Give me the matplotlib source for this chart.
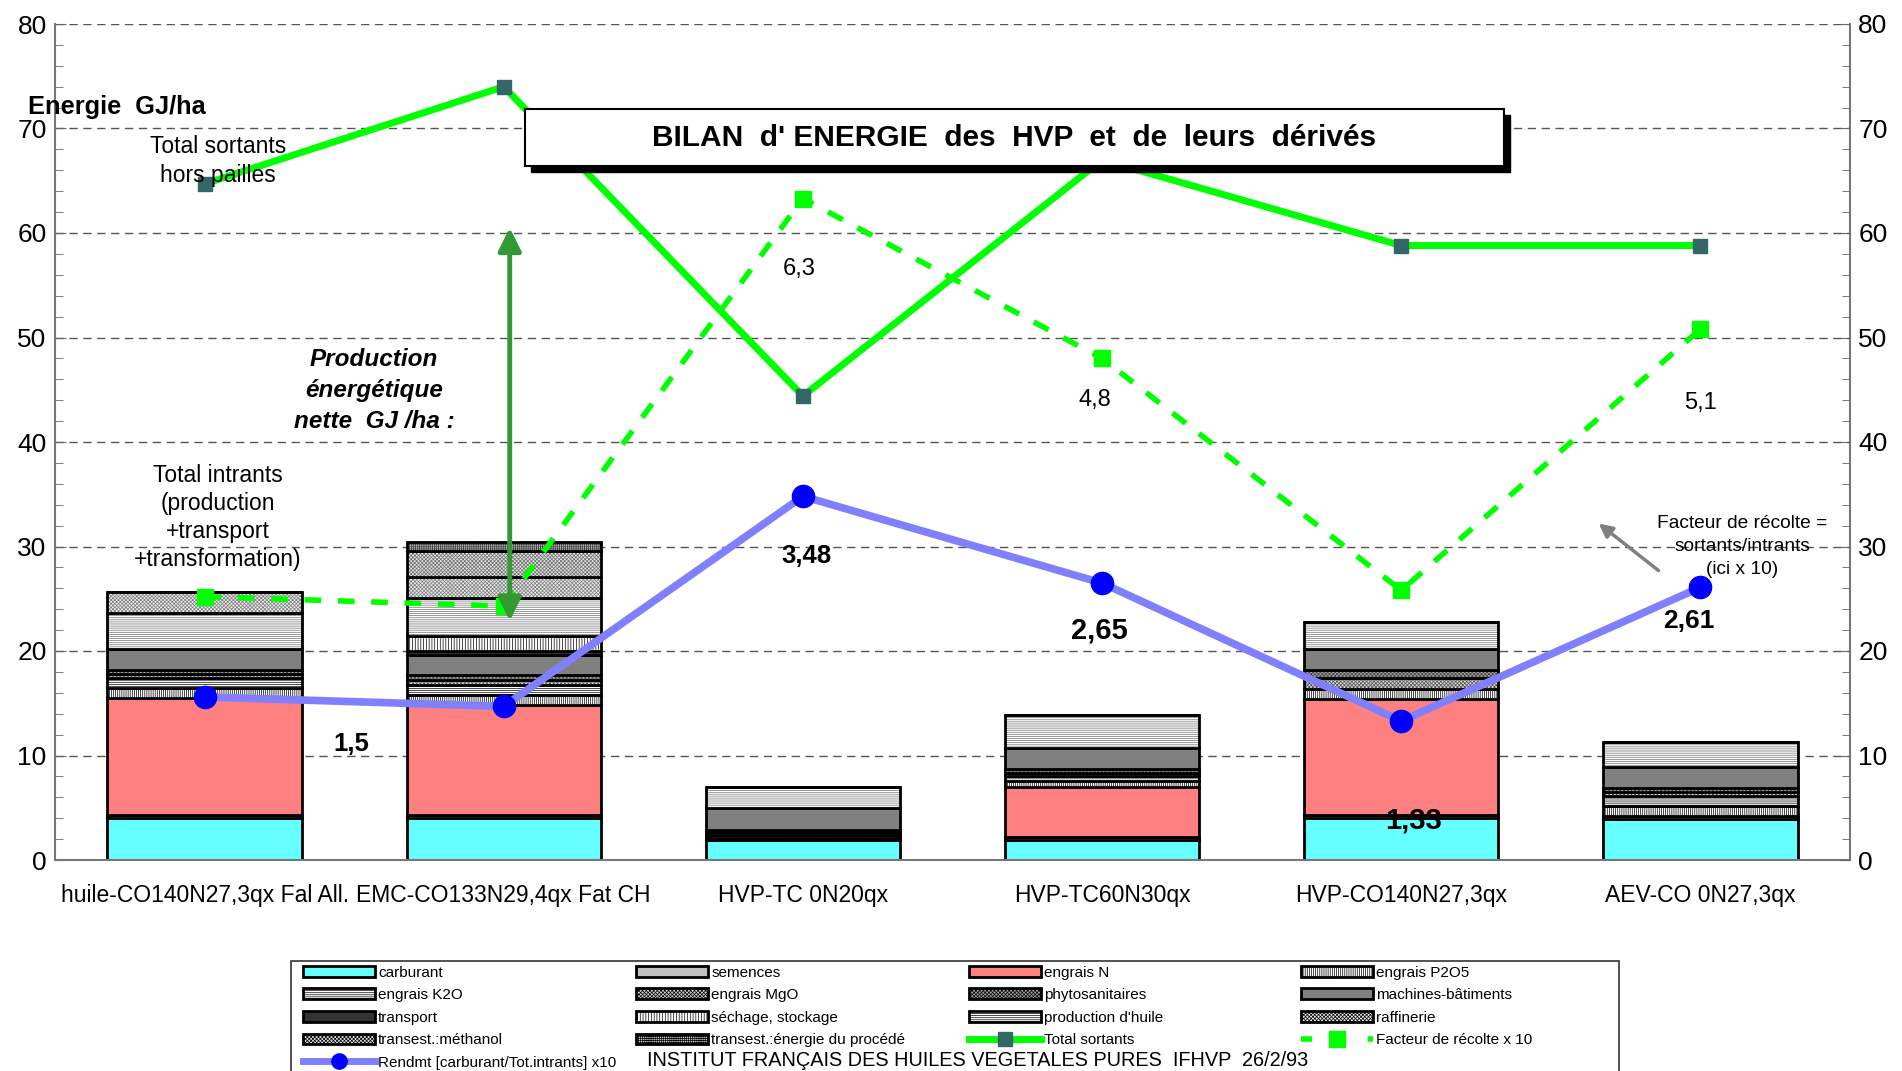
import matplotlib
matplotlib.use("Agg")
import matplotlib.pyplot as plt
import numpy as np
from matplotlib.patches import Patch, Rectangle
from matplotlib.lines import Line2D

plt.rcParams['font.family'] = ['Liberation Sans', 'DejaVu Sans']
plt.rcParams['hatch.linewidth'] = 0.5

# --- data ---
categories = ["huile-CO140N27,3qx Fal All.", "EMC-CO133N29,4qx Fat CH", "HVP-TC 0N20qx",
              "HVP-TC60N30qx", "HVP-CO140N27,3qx", "AEV-CO 0N27,3qx"]

series_names = ["carburant", "semences", "engrais N", "engrais P2O5", "engrais K2O",
                "engrais MgO", "phytosanitaires", "machines-bâtiments", "transport",
                "séchage, stockage", "production d'huile", "raffinerie",
                "transest.:méthanol", "transest.:énergie du procédé"]

carburant = [4.0, 4.0, 1.9, 1.9, 4.0, 3.9]
semences = [0.3, 0.3, 0.2, 0.3, 0.3, 0.3]
engrais_n = [11.2, 10.5, 0.0, 4.8, 11.1, 0.0]
engrais_p2o5 = [1.0, 1.0, 0.3, 0.6, 1.0, 1.0]
engrais_k2o = [0.9, 0.9, 0.3, 0.4, 0.0, 0.9]
engrais_mgo = [0.4, 0.5, 0.0, 0.35, 1.0, 0.4]
phyto = [0.4, 0.5, 0.2, 0.35, 0.8, 0.4]
machines = [2.0, 1.9, 2.1, 2.0, 2.0, 2.0]
transport = [0.0, 0.4, 0.0, 0.0, 0.0, 0.0]
sechage = [0.0, 1.4, 0.0, 0.0, 0.0, 0.0]
prod_huile = [3.4, 3.7, 2.0, 3.2, 2.6, 2.4]
raffinerie = [2.0, 2.0, 0.0, 0.0, 0.0, 0.0]
methanol = [0.0, 2.5, 0.0, 0.0, 0.0, 0.0]
procede = [0.0, 0.8, 0.0, 0.0, 0.0, 0.0]

total_sortants = [64.7, 74.0, 44.4, 67.0, 58.8, 58.8]
facteur_x10 = [25.2, 24.3, 63.3, 48.0, 25.8, 50.8]
rendement_x10 = [15.6, 14.7, 34.8, 26.5, 13.3, 26.1]

# label values shown on the chart
facteur_labels = ["6,3", "4,8", "5,1"]
rendement_labels = ["1,5", "3,48", "2,65", "1,33", "2,61"]

stack = [carburant, semences, engrais_n, engrais_p2o5, engrais_k2o, engrais_mgo, phyto,
         machines, transport, sechage, prod_huile, raffinerie, methanol, procede]

# facecolor, hatch, hatch colour per series
styles = [
    ('#66FFFF', None, 'black'),
    ('#C0C0C0', None, 'black'),
    ('#FF8080', None, 'black'),
    ('white', '||||||||', 'black'),
    ('white', '--------', 'black'),
    ('#D0D0D0', 'xxxxxxxxx', '#555555'),
    ('#A0A0A0', 'xxxxxxxxx', '#444444'),
    ('#808080', None, 'black'),
    ('#333333', None, 'black'),
    ('white', '||||||', 'black'),
    ('white', '--------', '#707070'),
    ('#E8E8E8', 'xxxxxxxxx', '#808080'),
    ('#E0E0E0', 'xxxxxxxxx', '#707070'),
    ('#C8C8C8', '++++++++', '#404040'),
]

W, H = 1902, 1071
fig = plt.figure(figsize=(W / 100, H / 100), dpi=100)
ax = fig.add_axes([55 / W, 1 - 860 / H, (1850 - 55) / W, (860 - 24) / H])

x = np.arange(len(categories))
bottom = np.zeros(len(categories))
for vals, (fc, hatch, hc) in zip(stack, styles):
    vals = np.array(vals)
    # fill + hatch, then black outline on top
    ax.bar(x, vals, 0.65, bottom=bottom, color=fc, edgecolor=hc, linewidth=0,
           hatch=hatch, zorder=2)
    ax.bar(x, vals, 0.65, bottom=bottom, fill=False, edgecolor='black',
           linewidth=2, zorder=2)
    bottom += vals

# lines
ax.plot(x, total_sortants, color='#00FF00', lw=5, marker='s', ms=10,
        mfc='#336666', mec='#336666', zorder=4)
ax.plot(x, facteur_x10, color='#00FF00', lw=4, ls=(0, (3, 3)), marker='s', ms=11,
        mfc='#00FF00', mec='#00FF00', zorder=4)
ax.plot(x, rendement_x10, color='#8080FF', lw=5.5, marker='o', ms=16,
        mfc='#0000FF', mec='#0000FF', zorder=5)

ax.set_xlim(-0.5, len(categories) - 0.5)
ax.set_ylim(0, 80)
ax.set_yticks(np.arange(0, 81, 10))
ax.set_yticks(np.arange(0, 81, 2), minor=True)
ax.set_xticks(x)
ax.set_xticklabels(categories, fontsize=16.5)
ax.tick_params(axis='x', length=0, pad=17)
ax.tick_params(axis='y', which='both', direction='in', colors='#666666',
               labelcolor='black', labelsize=19)
ax.tick_params(axis='y', which='major', length=8, pad=6)
ax.tick_params(axis='y', which='minor', length=6)
ax.grid(axis='y', color='#555555', ls=(0, (6, 4)), lw=1, zorder=0)
ax.spines['top'].set_visible(False)
for s in ['left', 'right', 'bottom']:
    ax.spines[s].set_color('#777777')
    ax.spines[s].set_linewidth(1.5)

ax2 = ax.twinx()
ax2.set_ylim(0, 80)
ax2.set_yticks(np.arange(0, 81, 10))
ax2.set_yticks(np.arange(0, 81, 2), minor=True)
ax2.tick_params(axis='y', which='both', direction='in', colors='#666666',
                labelcolor='black', labelsize=19)
ax2.tick_params(axis='y', which='major', length=8, pad=6)
ax2.tick_params(axis='y', which='minor', length=6)
for s in ax2.spines.values():
    s.set_visible(False)

# annotations
ax.text(-0.59, 72.1, "Energie  GJ/ha", fontsize=18.3, fontweight='bold', ha='left',
        va='center', clip_on=False)
ax.text(0.045, 66.9, "Total sortants\nhors pailles", fontsize=16.5, ha='center',
        va='center', linespacing=1.3, zorder=6)
ax.text(0.045, 32.8, "Total intrants\n(production\n+transport\n+transformation)",
        fontsize=16.5, ha='center', va='center', linespacing=1.28)
ax.text(0.566, 44.9, "Production\nénergétique\nnette  GJ /ha :", fontsize=17.5,
        fontweight='bold', fontstyle='italic', ha='center', va='center', linespacing=1.45)

ax.annotate("", xy=(1.02, 60.5), xytext=(1.02, 22.9),
            arrowprops=dict(arrowstyle='<|-|>', color='#339933', lw=3.5,
                            mutation_scale=35, shrinkA=0, shrinkB=0), zorder=6)

for (tx, ty), t in zip([(1.987, 56.6), (2.976, 44.0), (5.0, 43.7)], facteur_labels):
    ax.text(tx, ty, t, fontsize=17, ha='center', va='center')

rend_pos = [(0.49, 11.1, 18.5), (2.013, 29.1, 18.5), (2.99, 22.0, 21), (4.04, 3.8, 21),
            (4.96, 22.9, 19)]
for (tx, ty, fs), t in zip(rend_pos, rendement_labels):
    ax.text(tx, ty, t, fontsize=fs, fontweight='bold', ha='center', va='center', zorder=6)

ax.text(5.14, 30.0, "Facteur de récolte =\nsortants/intrants\n(ici x 10)", fontsize=13.8,
        ha='center', va='center', linespacing=1.5)
ax.annotate("", xy=(4.66, 32.2), xytext=(4.86, 27.7),
            arrowprops=dict(arrowstyle='-|>', color='#808080', lw=2.5,
                            mutation_scale=20, shrinkA=0, shrinkB=0))

# title box with shadow
def fig_rect(x0, y0, x1, y1, **kw):
    r = Rectangle((x0 / W, 1 - y1 / H), (x1 - x0) / W, (y1 - y0) / H,
                  transform=fig.transFigure, clip_on=False, **kw)
    fig.add_artist(r)
    return r

fig_rect(531, 115, 1510, 172, facecolor='black', edgecolor='black', zorder=10)
fig_rect(525, 109, 1504, 166, facecolor='white', edgecolor='black', lw=1.5, zorder=11)
fig.text(1014 / W, 1 - 138 / H, "BILAN  d' ENERGIE  des  HVP  et  de  leurs  dérivés",
         fontsize=21.5, fontweight='bold', ha='center', va='center', zorder=12)

# legend
handles = []
for (fc, hatch, hc) in styles:
    handles.append(Patch(facecolor=fc, edgecolor='black', linewidth=2, hatch=hatch))
h_total = Line2D([], [], color='#00FF00', lw=5, marker='s', ms=10,
                 mfc='#336666', mec='#336666')
h_fact = Line2D([], [], color='#00FF00', lw=4, ls=(0, (2, 4)), marker='s', ms=11,
                mfc='#00FF00', mec='#00FF00')
h_rend = Line2D([], [], color='#8080FF', lw=5, marker='o', ms=11,
                mfc='#0000FF', mec='#0000FF')

all_h = handles + [h_total, h_fact, h_rend]
all_l = series_names + ["Total sortants", "Facteur de récolte x 10",
                        "Rendmt [carburant/Tot.intrants] x10"]

col_x = [298, 631, 964, 1296]
columns = [[0, 4, 8, 12, 16], [1, 5, 9, 13], [2, 6, 10, 14], [3, 7, 11, 15]]
for cx, idxs in zip(col_x, columns):
    fig.legend([all_h[i] for i in idxs], [all_l[i] for i in idxs], loc='upper left',
               bbox_to_anchor=(cx / W, 1 - 961 / H), frameon=False, fontsize=11,
               handlelength=4.75, handleheight=0.7, handletextpad=0.2,
               labelspacing=0.56, borderpad=0.3, borderaxespad=0)

fig_rect(291, 961, 1619, 1090, facecolor='none', edgecolor='#333333', lw=1.2, zorder=1)
fig.text(647 / W, 1 - 1061 / H,
         "INSTITUT FRANÇAIS DES HUILES VEGETALES PURES  IFHVP  26/2/93",
         fontsize=14.3, ha='left', va='center')

fig.savefig("out.png", dpi=100)
